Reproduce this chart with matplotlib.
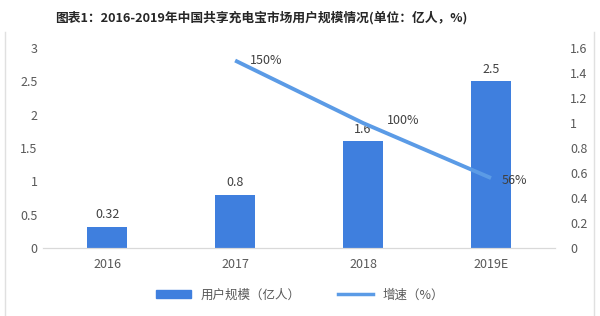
import numpy as np
import matplotlib.pyplot as plt
from matplotlib.lines import Line2D
from matplotlib.patches import Patch

plt.rcParams['font.family'] = ['Noto Sans CJK SC', 'DejaVu Sans']

years = ['2016', '2017', '2018', '2019E']
users = [0.32, 0.8, 1.6, 2.5]
growth_years = ['2017', '2018', '2019E']
growth = [1.5, 1.0, 0.56]
growth_labels = ['150%', '100%', '56%']

bar_color = '#3F7FDE'
line_color = '#5B9BE6'
text_color = '#595959'

fig = plt.figure(figsize=(6, 3.16), dpi=100)
ax = fig.add_axes([0.072, 0.215, 0.853, 0.633])
ax2 = ax.twinx()

x = np.arange(len(years))
ax.bar(x, users, width=0.31, color=bar_color, zorder=2)
for xi, v in zip(x, users):
    ax.text(xi, v + 0.08, f'{v:g}', ha='center', va='bottom', fontsize=9, color='#404040')

gx = [years.index(y) for y in growth_years]
ax2.plot(gx, growth, color=line_color, lw=2.8, zorder=3, solid_capstyle='butt')
offsets = [(0.24, 0.0), (0.31, 0.02), (0.18, -0.02)]
for xi, v, lab, (dx, dy) in zip(gx, growth, growth_labels, offsets):
    ax2.text(xi + dx, v + dy, lab, ha='center', va='center', fontsize=9, color='#404040')

ax.set_xlim(-0.5, 3.5)
ax.set_ylim(0, 3)
ax2.set_ylim(0, 1.6)
ax.set_xticks(x)
ax.set_xticklabels(years)
ax.set_yticks(np.arange(0, 3.01, 0.5))
ax.set_yticklabels(['0', '0.5', '1', '1.5', '2', '2.5', '3'])
ax2.set_yticks(np.arange(0, 1.61, 0.2))
ax2.set_yticklabels(['0', '0.2', '0.4', '0.6', '0.8', '1', '1.2', '1.4', '1.6'])

for a in (ax, ax2):
    for s in ['top', 'left', 'right']:
        a.spines[s].set_visible(False)
    a.spines['bottom'].set_color('#d9d9d9')
    a.tick_params(length=0, colors=text_color, labelsize=9)
ax.tick_params(axis='y', pad=4)
ax2.tick_params(axis='y', pad=11)
ax.tick_params(axis='x', pad=7)

fig.text(0.435, 0.945, '图表1：2016-2019年中国共享充电宝市场用户规模情况(单位：亿人，%)',
         ha='center', va='center', fontsize=9.2, fontweight='bold', color='#262626')

handles = [Patch(color=bar_color, label='用户规模（亿人）'),
           Line2D([0], [0], color=line_color, lw=2.5, label='增速（%）')]
fig.legend(handles=handles, loc='center', bbox_to_anchor=(0.5, 0.066), ncol=2,
           frameon=False, fontsize=9, handlelength=2.8, handleheight=0.6,
           columnspacing=3, labelcolor=text_color)

fig.add_artist(Line2D([0.009, 0.009], [0.0, 0.9], color='#e0e0e0', lw=1))
fig.add_artist(Line2D([0.99, 0.99], [0.0, 0.9], color='#e0e0e0', lw=1))

fig.savefig('out.png', dpi=100)
